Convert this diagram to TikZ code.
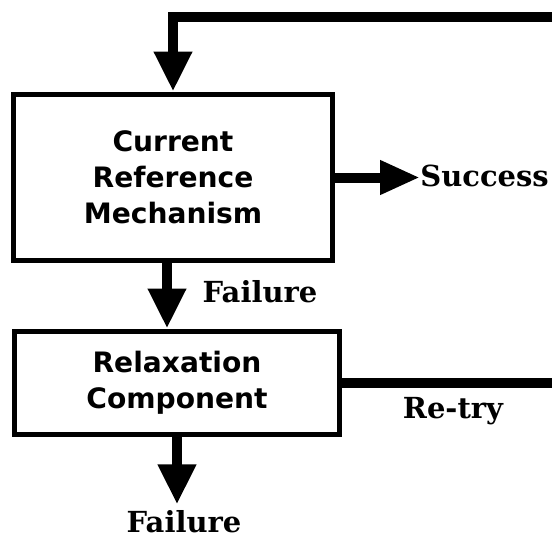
\documentclass[tikz,border=0pt]{standalone}
\usepackage{fontspec}
\setmainfont{DejaVu Sans}
\newfontfamily\labelfont{DejaVu Serif}
\usetikzlibrary{arrows.meta,calc}

\tikzset{
	stagebox/.style={draw, line width=0.1cm, align=center, inner sep=0pt,
		font=\fontsize{16}{20.5}\selectfont\bfseries},
	flowline/.style={line width=0.2cm},
	flowarrow/.style={line width=0.2cm, -{Triangle[length=0.8cm, width=0.72cm]}},
	sidearrow/.style={line width=0.2cm, -{Triangle[length=0.8cm, width=0.64cm]}},
	outcome/.style={inner sep=0pt, font=\fontsize{16.5}{19}\labelfont\bfseries}
}

\begin{document}
\begin{tikzpicture}[x=0.02cm, y=-0.02cm]
		%%%%% START %%%%%
		\useasboundingbox (0, 0) rectangle (552, 538);
		
		\node[stagebox, minimum width=6.38cm, minimum height=3.34cm] (crm) at (173, 177.5) {Current\\Reference\\Mechanism};
		\node[stagebox, minimum width=6.52cm, minimum height=2.08cm] (relax) at (177, 383) {Relaxation\\Component};
		
		\node[outcome, anchor=west] (success) at (420, 176) {Success};
		\node[outcome] (fail1) at (260, 292) {Failure};
		\node[outcome] (retry) at (453, 411) {Re-try};
		\node[outcome] (fail2) at (184, 522) {Failure};
		
		\coordinate (loopbot) at (560, 382);
		\coordinate (looptop) at (560, 17);
		\coordinate (failsplit) at ($(crm.south)+(-6, 0)$);
		
		% re-try loop back to the top
		\draw[flowarrow] (relax.east) -- (relax.east -| loopbot) -- (looptop) -- (looptop -| crm.north) -- (crm.north);
		
		\draw[sidearrow] (crm.east) -- (crm.east -| success.west);
		\draw[flowarrow] (failsplit) -- (failsplit |- relax.north);
		\draw[flowarrow] (relax.south) -- ($(relax.south |- fail2.north)+(0, -6)$);
		
		%%%%% END %%%%%
	\end{tikzpicture}
\end{document}
